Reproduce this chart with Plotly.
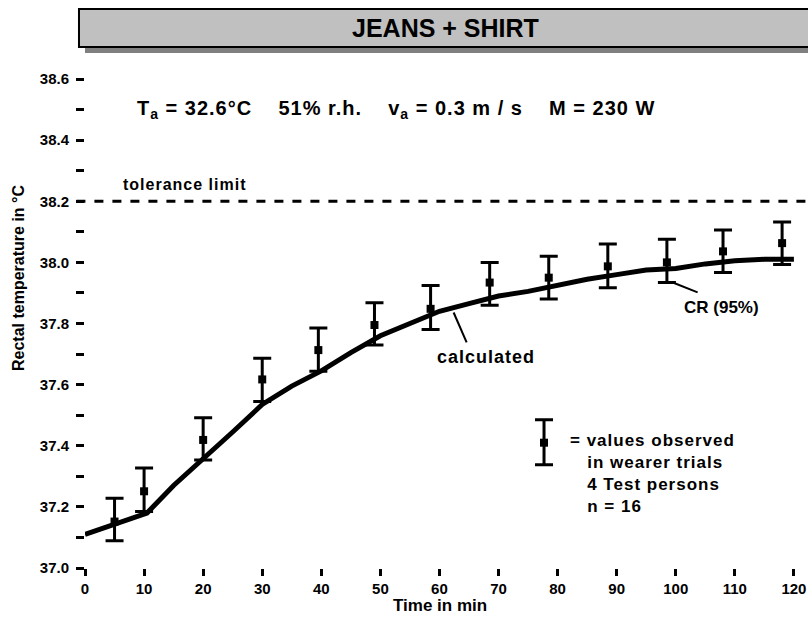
import plotly.graph_objects as go

# ---- data ----
calc_time = [0, 5, 10.5, 15, 20, 25, 30, 35, 40, 45, 50, 55, 60, 65, 70, 75, 80, 85, 90, 95, 100, 105, 110, 115, 120]
calc_temp = [37.11, 37.145, 37.18, 37.27, 37.355, 37.445, 37.535, 37.595, 37.645, 37.705, 37.76, 37.80, 37.84,
             37.865, 37.89, 37.905, 37.925, 37.945, 37.96, 37.975, 37.98, 37.995, 38.005, 38.01, 38.01]

obs_time = [5, 10, 20, 30, 39.5, 49, 58.5, 68.5, 78.5, 88.5, 98.5, 108, 118]
obs_mean = [37.152, 37.251, 37.419, 37.617, 37.713, 37.795, 37.848, 37.934, 37.95, 37.987, 38.0, 38.036, 38.063]
obs_upper = [37.228, 37.327, 37.492, 37.686, 37.785, 37.868, 37.924, 38.0, 38.02, 38.06, 38.076, 38.106, 38.132]
obs_lower = [37.089, 37.185, 37.353, 37.545, 37.644, 37.73, 37.78, 37.86, 37.88, 37.917, 37.934, 37.967, 37.993]

legend_time = [77.7]
legend_mean = [37.41]
legend_upper = [37.485]
legend_lower = [37.338]

tolerance_limit = 38.2

y_tick_vals = [37.0, 37.1, 37.2, 37.3, 37.4, 37.5, 37.6, 37.7, 37.8, 37.9, 38.0, 38.1, 38.2, 38.3, 38.4, 38.5, 38.6]
y_tick_text = ["37.0", "", "37.2", "", "37.4", "", "37.6", "", "37.8", "", "38.0", "", "38.2", "", "38.4", "", "38.6"]
x_tick_vals = [0, 10, 20, 30, 40, 50, 60, 70, 80, 90, 100, 110, 120]

FONT = "Liberation Sans, Arial, sans-serif"

fig = go.Figure()

fig.add_trace(go.Scatter(
    x=calc_time, y=calc_temp, mode="lines",
    line=dict(color="black", width=5), showlegend=False, hoverinfo="skip"))

def err_trace(xs, ms, us, ls):
    return go.Scatter(
        x=xs, y=ms, mode="markers",
        marker=dict(symbol="square", size=8, color="black"),
        error_y=dict(type="data", symmetric=False,
                     array=[u - m for u, m in zip(us, ms)],
                     arrayminus=[m - l for m, l in zip(ms, ls)],
                     color="black", thickness=3, width=9),
        showlegend=False)

fig.add_trace(err_trace(obs_time, obs_mean, obs_upper, obs_lower))
fig.add_trace(err_trace(legend_time, legend_mean, legend_upper, legend_lower))

# tolerance limit line
fig.add_shape(type="line", xref="paper", yref="y", x0=-0.012, x1=1.02, y0=tolerance_limit, y1=tolerance_limit,
              line=dict(color="black", width=3, dash="dash"))

# title box with shadow
fig.add_shape(type="rect", xref="paper", yref="paper", x0=0.0, x1=1.03, y0=1.0532, y1=1.1309,
              fillcolor="#808080", line=dict(width=0), layer="above")
fig.add_shape(type="rect", xref="paper", yref="paper", x0=-0.0084, x1=1.03, y0=1.0654, y1=1.1431,
              fillcolor="#c0c0c0", line=dict(color="black", width=2), layer="above")

SP = '<span style="letter-spacing:1px">'
annots = [
    dict(text="<b>JEANS + SHIRT</b>", xref="paper", yref="paper", x=0.5028, y=1.1043,
         xanchor="center", yanchor="middle", font=dict(size=25, family=FONT, color="black")),
    dict(text=SP + "<b>T<sub>a</sub> = 32.6°C    51% r.h.    v<sub>a</sub> = 0.3 m / s    M = 230 W</b></span>",
         xref="x", yref="y", x=8.4, y=38.5, xanchor="left", yanchor="middle",
         font=dict(size=20, family=FONT)),
    dict(text=SP + "<b>tolerance limit</b></span>", xref="x", yref="y", x=6.1, y=38.256,
         xanchor="left", yanchor="middle", font=dict(size=16, family=FONT)),
    dict(text=SP + "<b>calculated</b></span>", xref="x", yref="y", x=67.8, y=37.692,
         xanchor="center", yanchor="middle", font=dict(size=18, family=FONT)),
    dict(text="<b>CR (95%)</b>", xref="x", yref="y", x=107.8, y=37.852,
         xanchor="center", yanchor="middle", font=dict(size=17, family=FONT)),
    dict(text=SP + "<b>= values observed<br>   in wearer trials<br>   4 Test persons<br>   n = 16</b></span>",
         xref="x", yref="y", x=81.8, y=37.308, xanchor="left", yanchor="middle", align="left",
         font=dict(size=17, family=FONT)),
    dict(text="<b>Rectal temperature in °C</b>", xref="paper", yref="paper", x=-0.0936, y=0.593,
         xanchor="center", yanchor="middle", textangle=-90, font=dict(size=16, family=FONT)),
    dict(text="<b>Time in min</b>", xref="paper", yref="paper", x=0.4958, y=-0.0757,
         xanchor="center", yanchor="middle", font=dict(size=17, family=FONT)),
]
for a in annots:
    a.setdefault("showarrow", False)
    fig.add_annotation(**a)

# leader lines for labels
fig.add_shape(type="line", xref="x", yref="y", x0=62.4, y0=37.836, x1=64.6, y1=37.738,
              line=dict(color="black", width=2))
fig.add_shape(type="line", xref="x", yref="y", x0=99.5, y0=37.934, x1=103.7, y1=37.902,
              line=dict(color="black", width=2))

fig.update_layout(
    width=808, height=617,
    margin=dict(l=85, r=7, t=79, b=49, autoexpand=False),
    plot_bgcolor="white", paper_bgcolor="white",
    font=dict(family=FONT, color="black", size=15),
    xaxis=dict(range=[0, 121.2], tickvals=x_tick_vals, ticktext=[f"<b>{v}</b>" for v in x_tick_vals],
               ticks="outside", ticklen=7, tickwidth=3, tickcolor="black",
               showgrid=False, zeroline=False, showline=False, ticklabeloverflow="allow",
               automargin=False, tickfont=dict(size=15, family=FONT)),
    yaxis=dict(range=[37.0, 38.6], tickvals=y_tick_vals,
               ticktext=[f"<b>{t}</b>" if t else "" for t in y_tick_text],
               ticks="outside", ticklen=8, tickwidth=3, tickcolor="black",
               showgrid=False, zeroline=False, showline=False, ticklabelstandoff=4,
               automargin=False, tickfont=dict(size=15, family=FONT)),
)

fig.write_html("out.html", config={"displayModeBar": False},
               post_script="document.body.style.margin='0';document.body.style.overflow='hidden';")
